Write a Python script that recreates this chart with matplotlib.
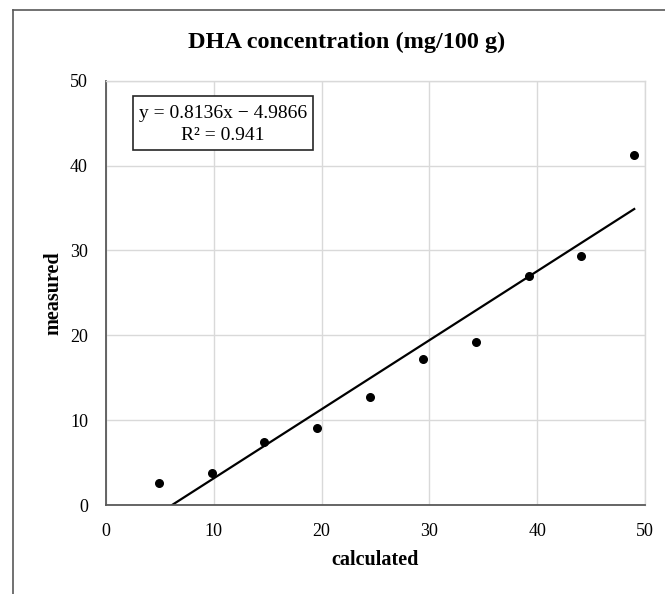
import matplotlib
matplotlib.use("Agg")
import matplotlib.pyplot as plt
from matplotlib.lines import Line2D
from matplotlib.patches import Rectangle
import numpy as np

calculated = [4.9, 9.8, 14.7, 19.6, 24.5, 29.4, 34.3, 39.2, 44.1, 49.0]
measured = [2.6, 3.8, 7.4, 9.1, 12.7, 17.2, 19.2, 27.0, 29.3, 41.2]
slope = 0.8136
intercept = -4.9866
r_squared = 0.941
x_ticks = [0, 10, 20, 30, 40, 50]
y_ticks = [0, 10, 20, 30, 40, 50]

W, H = 665, 594
plt.rcParams['font.family'] = ['Liberation Serif', 'DejaVu Serif']
fig = plt.figure(figsize=(W / 100, H / 100), dpi=100)

def fx(px):
    return px / W

def fy(py):
    return 1 - py / H

ax = fig.add_axes([fx(106), fy(505), (645 - 106) / W, (505 - 80.7) / H])
ax.set_xlim(0, 50)
ax.set_ylim(0, 50)
ax.set_xticks(x_ticks)
ax.set_yticks(y_ticks)
ax.grid(True, color='#d9d9d9', lw=1.0)
ax.set_axisbelow(True)
for s in ['top', 'right']:
    ax.spines[s].set_color('#d9d9d9')
    ax.spines[s].set_linewidth(1.0)
for s in ['left', 'bottom']:
    ax.spines[s].set_color('#595959')
    ax.spines[s].set_linewidth(1.3)
ax.tick_params(length=0, labelsize=13, colors='#000000')
ax.tick_params(axis='x', pad=13)
ax.tick_params(axis='y', pad=13)

ax.scatter(calculated, measured, s=30, color='black', zorder=3)
x0 = -intercept / slope
x1 = max(calculated)
xs = np.array([x0, x1])
ax.plot(xs, slope * xs + intercept, color='black', lw=1.6, zorder=2)

ax.set_xlabel('calculated', fontsize=14.5, fontweight='bold')
ax.xaxis.set_label_coords((375 - 106) / 539, (505 - 560) / 424.3)
ax.xaxis.label.set_va('center')
ax.set_ylabel('measured', fontsize=14.5, fontweight='bold')
ax.yaxis.set_label_coords((53 - 106) / 539, 0.5)
ax.yaxis.label.set_va('center')
ax.yaxis.label.set_ha('center')

fig.text(fx(347), fy(42), 'DHA concentration (mg/100 g)', ha='center', va='center',
         fontsize=17.5, fontweight='bold')

rect = Rectangle((fx(133), fy(150)), (313 - 133) / W, (150 - 96) / H,
                 transform=fig.transFigure, fill=True, facecolor='white',
                 edgecolor='#262626', lw=1.2, zorder=5, clip_on=False)
ax.add_patch(rect)
ax.text(fx(223), fy(114), f'y = {slope}x \u2212 {abs(intercept)}', ha='center', va='center',
        fontsize=14, zorder=6, transform=fig.transFigure)
ax.text(fx(223), fy(135), f'R\u00b2 = {r_squared}', ha='center', va='center',
        fontsize=14, zorder=6, transform=fig.transFigure)

fig.add_artist(Line2D([fx(13), 1.0], [fy(10), fy(10)], color='#595959', lw=1.2,
                      transform=fig.transFigure))
fig.add_artist(Line2D([fx(13), fx(13)], [0, fy(10)], color='#595959', lw=1.2,
                      transform=fig.transFigure))

fig.savefig('out.png', dpi=100)
